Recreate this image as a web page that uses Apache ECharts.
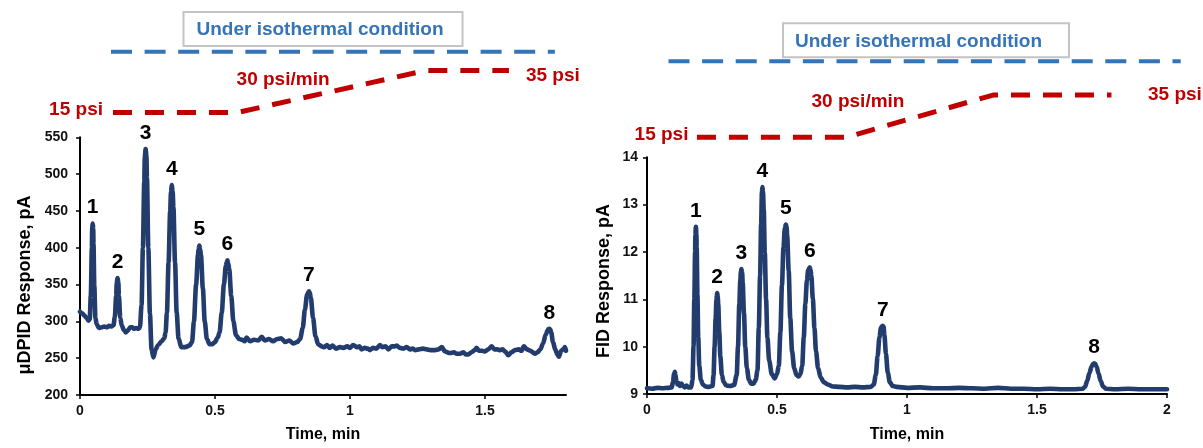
<!DOCTYPE html>
<html>
<head>
<meta charset="utf-8">
<script src="https://cdn.jsdelivr.net/npm/echarts@6/dist/echarts.min.js"></script>
<style>
  html, body { margin: 0; padding: 0; background: #fff; }
  #chart { width: 1203px; height: 448px; }
</style>
</head>
<body>
<div id="chart"></div>
<script>
// ---- μDPID chromatogram (left panel): [time, min ; response, pA] ----
const dpidTrace = [
  [0,313],[0.008,311],[0.016,308],[0.024,305],[0.031,301],[0.036,303],[0.040,335],[0.044,400],[0.045,425],
  [0.049,426],[0.050,405],[0.053,348],[0.057,305],[0.062,296],[0.070,291],[0.080,292],[0.090,293],[0.100,292],
  [0.108,294],[0.116,293],[0.124,295],[0.129,306],[0.134,335],[0.136,352],[0.142,353],[0.144,335],[0.149,305],[0.155,294],
  [0.163,288],[0.170,285],[0.178,288],[0.186,292],[0.193,292],[0.200,290],[0.208,291],[0.216,290],
  [0.222,292],[0.228,322],[0.233,400],[0.238,490],[0.240,522],[0.246,524],[0.248,495],[0.253,400],[0.259,310],[0.265,262],
  [0.272,251],[0.280,262],[0.290,268],[0.302,273],[0.312,277],[0.317,285],[0.322,312],[0.328,380],
  [0.334,450],[0.337,476],[0.343,477],[0.346,455],[0.352,380],[0.358,312],[0.365,277],[0.375,265],[0.390,265],[0.405,267],
  [0.415,272],[0.422,300],[0.430,350],[0.437,390],[0.439,398],[0.445,398],[0.448,390],[0.455,345],[0.462,300],[0.470,276],
  [0.480,269],[0.490,269],[0.500,272],[0.510,278],[0.517,285],[0.525,312],[0.533,350],[0.540,375],[0.543,380],
  [0.549,379],[0.553,370],[0.560,335],[0.568,300],[0.578,281],[0.590,276],[0.600,275],[0.610,273],[0.617,278],
  [0.630,273],[0.645,275],[0.660,274],[0.673,279],[0.685,274],[0.700,276],[0.715,273],[0.730,276],
  [0.745,277],[0.760,272],[0.775,274],[0.790,270],[0.805,272],[0.815,276],[0.825,291],[0.833,316],
  [0.841,336],[0.845,339],[0.851,339],[0.855,332],[0.863,305],[0.872,280],[0.882,269],[0.895,266],[0.905,265],[0.915,268],
  [0.925,264],[0.935,267],[0.948,263],[0.963,265],[0.975,264],[0.990,266],[1.000,264],[1.012,268],
  [1.025,265],[1.035,266],[1.043,262],[1.055,264],[1.065,263],[1.074,261],[1.085,264],[1.098,263],
  [1.111,268],[1.120,265],[1.132,266],[1.142,262],[1.155,266],[1.165,266],[1.173,267],[1.185,264],
  [1.198,263],[1.210,265],[1.222,262],[1.232,263],[1.241,261],[1.255,262],[1.270,263],[1.284,262],
  [1.298,261],[1.315,261],[1.328,262],[1.340,265],[1.352,259],[1.370,257],[1.385,258],[1.395,256],
  [1.407,256],[1.420,258],[1.430,255],[1.438,255],[1.450,258],[1.462,261],[1.469,264],[1.478,260],
  [1.490,260],[1.500,259],[1.512,262],[1.525,266],[1.535,262],[1.545,262],[1.556,261],[1.565,262],
  [1.575,259],[1.586,254],[1.598,258],[1.611,261],[1.625,262],[1.635,260],[1.644,266],[1.655,262],
  [1.668,260],[1.685,256],[1.695,258],[1.705,262],[1.715,270],[1.725,282],[1.732,288],[1.735,289.5],[1.742,289],[1.745,285],
  [1.752,272],[1.760,262],[1.768,255],[1.774,252],[1.782,260],[1.790,262],[1.796,265],[1.800,260]
];
// numbered peak apexes, in elution order
const dpidPeaks = [
  [0.047,433],[0.139,359],[0.243,534],[0.340,485],[0.442,403],[0.546,383],[0.848,341],[1.738,290]
];

// ---- FID chromatogram (right panel) ----
const fidTrace = [
  [0,9.12],[0.02,9.11],[0.04,9.13],[0.06,9.12],[0.08,9.13],[0.095,9.14],[0.100,9.25],[0.104,9.42],
  [0.107,9.47],[0.110,9.40],[0.113,9.25],[0.117,9.20],[0.122,9.23],[0.127,9.17],[0.133,9.22],[0.138,9.17],
  [0.145,9.14],[0.152,9.18],[0.158,9.14],[0.170,9.14],[0.175,9.30],[0.179,10.0],[0.182,11.0],[0.185,12.0],[0.186,12.36],
  [0.190,12.38],[0.191,12.1],[0.194,11.1],[0.197,10.2],[0.201,9.60],[0.207,9.30],[0.215,9.20],[0.225,9.16],[0.238,9.15],
  [0.252,9.17],[0.256,9.40],[0.260,10.0],[0.264,10.6],[0.267,11.0],[0.268,11.06],[0.272,11.06],[0.274,10.9],[0.278,10.3],[0.282,9.80],
  [0.288,9.40],[0.295,9.25],[0.305,9.18],[0.320,9.17],[0.335,9.19],[0.345,9.40],[0.350,10.0],[0.355,10.9],
  [0.359,11.4],[0.361,11.57],[0.366,11.56],[0.368,11.35],[0.373,10.7],[0.378,10.0],[0.384,9.55],[0.392,9.30],[0.400,9.22],[0.410,9.22],
  [0.418,9.30],[0.425,9.50],[0.430,10.4],[0.435,11.5],[0.439,12.6],[0.442,13.26],[0.446,13.28],[0.449,12.9],[0.453,12.0],[0.458,11.0],
  [0.463,10.2],[0.470,9.70],[0.480,9.42],[0.491,9.33],[0.500,9.42],[0.507,9.60],[0.513,10.3],[0.519,11.3],
  [0.525,12.1],[0.530,12.5],[0.537,12.52],[0.539,12.35],[0.545,11.6],[0.551,10.6],[0.558,9.90],[0.566,9.55],[0.575,9.40],
  [0.583,9.37],[0.590,9.42],[0.597,9.60],[0.603,10.2],[0.609,10.9],[0.615,11.4],[0.620,11.62],[0.629,11.63],[0.632,11.5],
  [0.638,11.0],[0.644,10.4],[0.650,9.90],[0.658,9.55],[0.668,9.35],[0.680,9.25],[0.695,9.20],[0.715,9.16],
  [0.740,9.15],[0.770,9.14],[0.800,9.15],[0.830,9.14],[0.860,9.15],[0.872,9.20],[0.880,9.40],[0.887,9.80],
  [0.894,10.2],[0.900,10.4],[0.904,10.43],[0.910,10.42],[0.913,10.25],[0.919,9.85],[0.926,9.45],[0.934,9.25],[0.945,9.17],[0.960,9.15],
  [1.00,9.13],[1.05,9.14],[1.10,9.12],[1.15,9.12],[1.20,9.13],[1.25,9.12],[1.30,9.11],[1.35,9.13],
  [1.40,9.11],[1.45,9.11],[1.50,9.10],[1.55,9.11],[1.60,9.10],[1.64,9.10],[1.675,9.11],[1.685,9.15],
  [1.693,9.28],[1.702,9.45],[1.710,9.58],[1.716,9.64],[1.724,9.64],[1.729,9.58],[1.737,9.43],[1.745,9.27],[1.754,9.16],[1.765,9.11],
  [1.80,9.10],[1.85,9.11],[1.90,9.10],[1.95,9.10],[2.00,9.10]
];
const fidPeaks = [
  [0.188,12.53],[0.270,11.13],[0.363,11.64],[0.444,13.37],[0.534,12.58],[0.626,11.675],[0.907,10.44],[1.720,9.65]
];

// ---- carrier-gas pressure programme sketched above each panel: [time, min ; psi] ----
// hold at 15 psi, ramp at 30 psi/min to 35 psi, hold
const pressureRate = 30;
const dpidPressure = [[0.007,15],[0.447,15],[1.114,35],[1.411,35]];
const fidPressure  = [[0.129,15],[0.805,15],[1.472,35],[2.009,35]];
// oven held isothermal over the whole programme
const dpidOven = [[0,1],[1.574,1]];
const fidOven  = [[0,1],[2.323,1]];

// axis ticks
const dpidXTicks = [0, 0.5, 1, 1.5];
const ovenNote = 'Under isothermal condition';

const FONT = '"Liberation Sans", Arial, sans-serif';
const TRACE = '#223c6e';
const RED = '#c00000';
const BLUE = '#3574b6';

function withApexes(trace, peaks) {
  return trace.concat(peaks).sort((a, b) => a[0] - b[0]);
}

function responseX(gridIndex, max, ticks, gap) {
  const ax = {
    type: 'value', gridIndex, min: 0, max, interval: 0.5,
    name: 'Time, min', nameLocation: 'middle', nameGap: gap,
    nameTextStyle: { fontFamily: FONT, fontSize: 16, fontWeight: 'bold', color: '#000' },
    axisLine: { show: true, lineStyle: { color: '#000', width: 2 } },
    axisTick: { show: true, inside: false, length: 4, lineStyle: { color: '#000', width: 1.5 } },
    axisLabel: { fontFamily: FONT, fontSize: 14, fontWeight: 'bold', color: '#111', margin: 9 },
    splitLine: { show: false }
  };
  if (ticks) {
    ax.axisTick.customValues = ticks;
    ax.axisLabel.customValues = ticks;
  }
  return ax;
}

function responseY(gridIndex, min, max, interval, margin) {
  return {
    type: 'value', gridIndex, min, max, interval,
    axisLine: { show: true, lineStyle: { color: '#000', width: 2 } },
    axisTick: { show: true, inside: false, length: 4, lineStyle: { color: '#000', width: 1.5 } },
    axisLabel: { fontFamily: FONT, fontSize: 14, fontWeight: 'bold', color: '#111', margin },
    splitLine: { show: false }
  };
}

function hiddenAxis(gridIndex, min, max) {
  return { type: 'value', gridIndex, min, max, show: false, splitLine: { show: false } };
}

function traceSeries(xi, yi, data) {
  return {
    type: 'line', xAxisIndex: xi, yAxisIndex: yi, data,
    showSymbol: false, smooth: 0.3, smoothMonotone: 'x',
    lineStyle: { color: TRACE, width: 4.6, cap: 'round', join: 'round' },
    silent: true, animation: false, z: 3
  };
}

function peakLabels(xi, yi, peaks) {
  return {
    type: 'scatter', xAxisIndex: xi, yAxisIndex: yi, data: peaks,
    symbolSize: 1, itemStyle: { color: 'rgba(0,0,0,0)', opacity: 1 },
    label: {
      show: true, position: 'top', distance: 5,
      formatter: p => String(p.dataIndex + 1),
      fontFamily: FONT, fontSize: 21, fontWeight: 'bold', color: '#000', opacity: 1
    },
    silent: true, animation: false, z: 4
  };
}

function pressureSeries(xi, yi, data, offs) {
  const lab = (text, position, align) => ({
    show: true, formatter: text, position, align, verticalAlign: 'middle',
    fontFamily: FONT, fontSize: 19, fontWeight: 'bold', color: RED
  });
  const pts = data.map(p => ({ value: p }));
  pts[0].label = lab(`${data[0][1]} psi`, offs.start, 'right');
  pts[1].label = lab(`${pressureRate} psi/min`, offs.ramp, 'center');
  pts[data.length - 1].label = lab(`${data[data.length - 1][1]} psi`, offs.end, 'left');
  return {
    type: 'line', xAxisIndex: xi, yAxisIndex: yi, data: pts,
    showSymbol: true, symbol: 'circle', symbolSize: 1, itemStyle: { color: 'rgba(0,0,0,0)' },
    lineStyle: { color: RED, width: 5, type: [19, 13], cap: 'butt' },
    clip: false, silent: true, animation: false
  };
}

function ovenSeries(xi, yi, data) {
  return {
    type: 'line', xAxisIndex: xi, yAxisIndex: yi, data,
    showSymbol: false,
    lineStyle: { color: BLUE, width: 4, type: [21, 12.6], cap: 'butt' },
    clip: false, silent: true, animation: false
  };
}

function noteBox(cx, cy, w, h, textDx) {
  return {
    type: 'group', silent: true,
    children: [
      { type: 'rect', shape: { x: cx - w / 2, y: cy - h / 2, width: w, height: h },
        style: { fill: '#fff', stroke: '#c4c4c4', lineWidth: 2 } },
      { type: 'text', x: cx + textDx, y: cy + 1,
        style: { text: ovenNote, fill: BLUE, font: `bold 19px ${FONT}`, align: 'center', verticalAlign: 'middle' } }
    ]
  };
}

const chart = echarts.init(document.getElementById('chart'), null, { renderer: 'canvas' });

chart.setOption({
  backgroundColor: '#fff',
  animation: false,
  grid: [
    { left: 80, right: 637, top: 137.3, bottom: 49.7 },   // μDPID chromatogram
    { left: 647, right: 36, top: 157.3, bottom: 52 },     // FID chromatogram
    { left: 111, width: 443.9, top: 51.7, height: 71.4 },  // programme sketch, left
    { left: 668.5, width: 512.2, top: 61.2, height: 86.7 } // programme sketch, right
  ],
  xAxis: [
    responseX(0, 1.8, dpidXTicks, 32),
    responseX(1, 2, null, 33),
    hiddenAxis(2, 0, 1.574),
    hiddenAxis(3, 0, 2.323)
  ],
  yAxis: [
    responseY(0, 200, 550, 50, 12),
    responseY(1, 9, 14, 1, 9),
    hiddenAxis(2, 10, 44),   // psi, left sketch
    hiddenAxis(2, 0, 1),     // oven level, left sketch
    hiddenAxis(3, 10, 51),   // psi, right sketch
    hiddenAxis(3, 0, 1)      // oven level, right sketch
  ],
  series: [
    traceSeries(0, 0, withApexes(dpidTrace, dpidPeaks)),
    peakLabels(0, 0, dpidPeaks),
    traceSeries(1, 1, withApexes(fidTrace, fidPeaks)),
    peakLabels(1, 1, fidPeaks),
    ovenSeries(2, 3, dpidOven),
    pressureSeries(2, 2, dpidPressure, { start: [-9.5, -2.2], ramp: [46.5, -32.2], end: [17.5, 5.8] }),
    ovenSeries(3, 5, fidOven),
    pressureSeries(3, 4, fidPressure, { start: [-8, -1.8], ramp: [12.5, -35.1], end: [37, 0.5] })
  ],
  graphic: [
    noteBox(323, 29, 279, 34, -3),
    noteBox(926, 40.3, 286, 34, -7.5),
    { type: 'text', x: 25, y: 285, rotation: Math.PI / 2, silent: true,
      style: { text: 'μDPID Response, pA', fill: '#000', font: `bold 18px ${FONT}`, align: 'center', verticalAlign: 'middle' } },
    { type: 'text', x: 604, y: 281, rotation: Math.PI / 2, silent: true,
      style: { text: 'FID Response, pA', fill: '#000', font: `bold 18px ${FONT}`, align: 'center', verticalAlign: 'middle' } }
  ]
});
</script>
</body>
</html>
